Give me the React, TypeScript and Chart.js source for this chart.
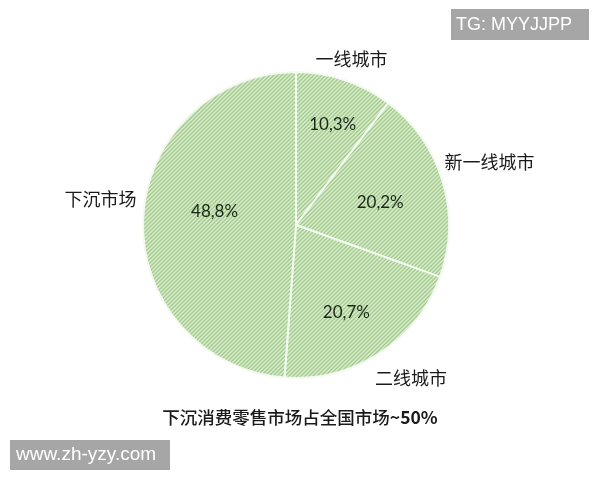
import React, { useEffect, useRef } from "react";
import { Chart, registerables } from "chart.js";

Chart.register(...registerables);

// Market share of retail consumption by city tier (%)
const categories = ["一线城市", "新一线城市", "二线城市", "下沉市场"];
const shares = [10.3, 20.2, 20.7, 48.8];

const titleMain = "下沉消费零售市场占全国市场";
const titleTail = "~50%";
const badgeTop = "TG: MYYJJPP";
const badgeBottom = "www.zh-yzy.com";

// label placement around each slice: [radius factor, angle shift in degrees]
const innerLabelPlace: [number, number][] = [
  [0.7, 1.5],
  [0.57, 1.5],
  [0.66, 3],
  [0.54, 7.5],
];
const outerLabelPlace: [number, number][] = [
  [1.14, 0],
  [1.33, -1.5],
  [1.25, -4],
  [1.29, 5.5],
];

const fmtShare = (v: number) => v.toFixed(1).replace(".", ",") + "%";

function makeHatch(): CanvasPattern | string {
  const tile = document.createElement("canvas");
  tile.width = 4;
  tile.height = 4;
  const tctx = tile.getContext("2d");
  if (!tctx) return "#b9d9a5";
  const img = tctx.createImageData(4, 4);
  const dark = [160, 202, 140];
  const mid = [190, 220, 174];
  const light = [220, 237, 208];
  for (let y = 0; y < 4; y++) {
    for (let x = 0; x < 4; x++) {
      const k = (x + y) % 4;
      const c = k === 0 ? dark : k === 2 ? light : mid;
      const o = (y * 4 + x) * 4;
      img.data[o] = c[0];
      img.data[o + 1] = c[1];
      img.data[o + 2] = c[2];
      img.data[o + 3] = 255;
    }
  }
  tctx.putImageData(img, 0, 0);
  const p = tctx.createPattern(tile, "repeat");
  return p || "#b9d9a5";
}

const annotate = {
  id: "annotate",
  afterDatasetsDraw(chart: any) {
    const ctx: CanvasRenderingContext2D = chart.ctx;
    const arcs = chart.getDatasetMeta(0).data;
    ctx.save();
    ctx.textAlign = "center";
    ctx.textBaseline = "middle";
    arcs.forEach((arc: any, i: number) => {
      const { x, y, startAngle, endAngle, outerRadius } = arc.getProps(
        ["x", "y", "startAngle", "endAngle", "outerRadius"],
        true
      );
      const mid = (startAngle + endAngle) / 2;

      const [ri, ai] = innerLabelPlace[i];
      const a1 = mid + (ai * Math.PI) / 180;
      ctx.fillStyle = "#1b2817";
      ctx.font = "17px Lato, 'Noto Sans CJK SC', sans-serif";
      ctx.fillText(
        fmtShare(shares[i]),
        x + Math.cos(a1) * outerRadius * ri,
        y + Math.sin(a1) * outerRadius * ri
      );

      const [ro, ao] = outerLabelPlace[i];
      const a2 = mid + (ao * Math.PI) / 180;
      ctx.fillStyle = "#1a1a1a";
      ctx.font = "18px 'Noto Sans CJK SC', sans-serif";
      ctx.fillText(
        categories[i],
        x + Math.cos(a2) * outerRadius * ro,
        y + Math.sin(a2) * outerRadius * ro
      );
    });
    ctx.restore();
  },
  afterDraw(chart: any) {
    const ctx: CanvasRenderingContext2D = chart.ctx;
    const w = chart.width;
    ctx.save();
    ctx.textBaseline = "middle";

    // caption under the pie
    const fMain = "500 17.5px 'Noto Sans CJK SC', sans-serif";
    const fTail = "bold 17.5px 'Noto Sans CJK SC', sans-serif";
    ctx.font = fMain;
    const wMain = ctx.measureText(titleMain).width;
    ctx.font = fTail;
    const wTail = ctx.measureText(titleTail).width;
    const x0 = w / 2 - (wMain + wTail) / 2;
    ctx.textAlign = "left";
    ctx.fillStyle = "#1a1a1a";
    ctx.font = fMain;
    ctx.fillText(titleMain, x0, 417);
    ctx.font = fTail;
    ctx.fillText(titleTail, x0 + wMain, 417);

    // grey badges
    ctx.fillStyle = "#a6a6a6";
    ctx.fillRect(451, 9, 138, 31);
    ctx.fillRect(10, 440, 160, 30);
    ctx.fillStyle = "#ffffff";
    ctx.font = "18px 'Liberation Sans', Arial, sans-serif";
    ctx.textAlign = "left";
    ctx.fillText(badgeTop, 456, 25);
    ctx.font = "19px 'Liberation Sans', Arial, sans-serif";
    ctx.fillText(badgeBottom, 16, 455);
    ctx.restore();
  },
};

export default function App() {
  const ref = useRef<HTMLCanvasElement | null>(null);

  useEffect(() => {
    if (!ref.current) return;
    const hatch = makeHatch();
    const chart = new Chart(ref.current, {
      type: "pie",
      data: {
        labels: categories,
        datasets: [
          {
            data: shares,
            backgroundColor: shares.map(() => hatch),
            borderColor: "#f4faf0",
            borderWidth: 2,
          },
        ],
      },
      options: {
        responsive: false,
        animation: false,
        layout: { padding: { left: 142, right: 150, top: 71, bottom: 101 } },
        plugins: {
          legend: { display: false },
          tooltip: { enabled: false },
          title: { display: false },
        },
      },
      plugins: [annotate],
    });
    return () => chart.destroy();
  }, []);

  return (
    <div style={{ position: "absolute", left: 0, top: 0, width: 600, height: 480, background: "#ffffff" }}>
      <canvas ref={ref} width={600} height={480} style={{ display: "block" }} />
    </div>
  );
}
